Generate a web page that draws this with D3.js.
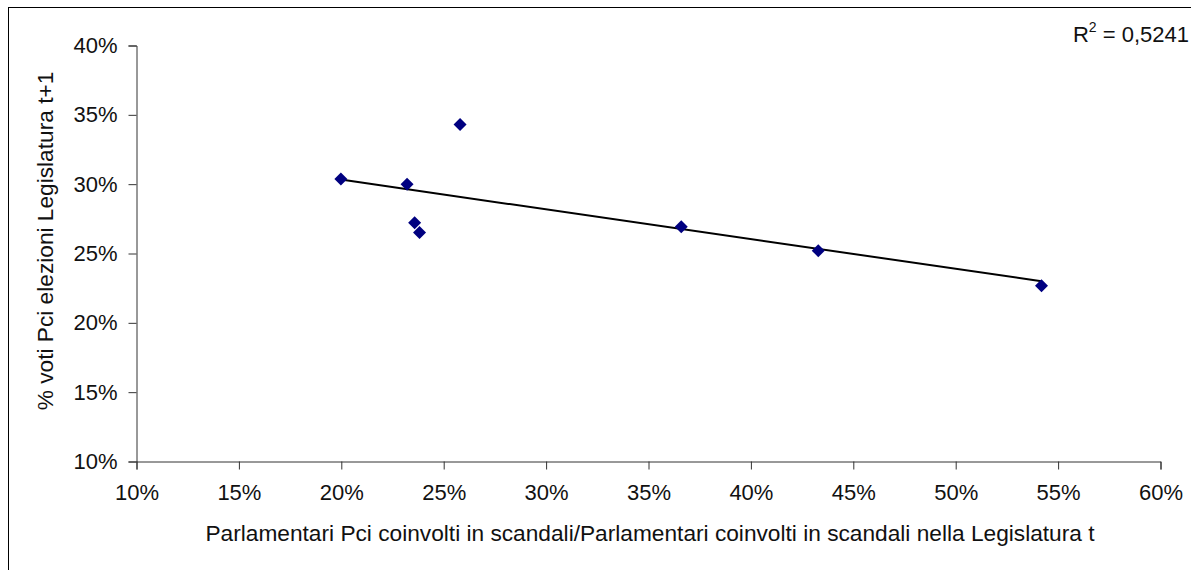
<!DOCTYPE html>
<html lang="it">
  <head>
    <meta charset="UTF-8" />
    <title>Voti Pci vs scandali</title>
    <style>
      html,
      body {
        margin: 0;
        padding: 0;
        background: #fff;
      }
      svg {
        display: block;
        font-family: "Liberation Sans", Arial, sans-serif;
      }
    </style>
    <script src="https://cdn.jsdelivr.net/npm/d3@7/dist/d3.min.js"></script>
  </head>
  <body>
    <script>
      // share of Pci deputies among those involved in scandals, legislature t
      const scandalShare = [0.1998, 0.2321, 0.2358, 0.2382, 0.258, 0.366, 0.4329, 0.5419];
      // Pci vote share at the next election (t+1)
      const voteShare = [0.3037, 0.2999, 0.2722, 0.2652, 0.3431, 0.2693, 0.252, 0.2267];
      const xTicks = [0.1, 0.15, 0.2, 0.25, 0.3, 0.35, 0.4, 0.45, 0.5, 0.55, 0.6];
      const yTicks = [0.1, 0.15, 0.2, 0.25, 0.3, 0.35, 0.4];
      const rSquaredText = "0,5241";

      const width = 1191;
      const height = 570;
      const fontSize = "22px";
      const titleSize = "22.7px";

      const svg = d3
        .select(document.body)
        .append("svg")
        .attr("width", width)
        .attr("height", height);

      // chart frame (right / bottom edges fall outside the picture)
      svg
        .append("rect")
        .attr("x", 8.5)
        .attr("y", 7.5)
        .attr("width", 1200)
        .attr("height", 600)
        .attr("fill", "none")
        .attr("stroke", "#000")
        .attr("stroke-width", 1);

      const x = d3.scaleLinear().domain([0.1, 0.6]).range([136.5, 1160.5]);
      const y = d3.scaleLinear().domain([0.1, 0.4]).range([461.5, 45.5]);
      const pct = d3.format(".0%");

      const xAxis = svg
        .append("g")
        .attr("transform", `translate(0,${y(0.1)})`)
        .call(
          d3.axisBottom(x).tickValues(xTicks).tickFormat(pct).tickSizeOuter(0).tickSize(8).tickPadding(15)
        );

      const yAxis = svg
        .append("g")
        .attr("transform", `translate(${x(0.1)},0)`)
        .call(
          d3.axisLeft(y).tickValues(yTicks).tickFormat(pct).tickSizeOuter(0).tickSize(8).tickPadding(11)
        );

      [xAxis, yAxis].forEach((g) => {
        g.attr("font-family", null).attr("font-size", null);
        g.selectAll("path, line").attr("stroke", "#333");
        g.selectAll("text").attr("fill", "#111").style("font-size", fontSize);
      });

      // axis titles
      svg
        .append("text")
        .attr("x", 650)
        .attr("y", 541)
        .attr("text-anchor", "middle")
        .attr("fill", "#111")
        .style("font-size", titleSize)
        .text(
          "Parlamentari Pci coinvolti in scandali/Parlamentari coinvolti in scandali nella Legislatura t"
        );

      svg
        .append("text")
        .attr("transform", "translate(53,241) rotate(-90)")
        .attr("text-anchor", "middle")
        .attr("fill", "#111")
        .style("font-size", titleSize)
        .text("% voti Pci elezioni Legislatura t+1");

      // linear trend line over the data range
      const points = scandalShare.map((v, i) => [v, voteShare[i]]);
      const mx = d3.mean(scandalShare);
      const my = d3.mean(voteShare);
      const slope =
        d3.sum(points, (p) => (p[0] - mx) * (p[1] - my)) /
        d3.sum(points, (p) => (p[0] - mx) ** 2);
      const intercept = my - slope * mx;
      const [x0, x1] = d3.extent(scandalShare);

      svg
        .append("line")
        .attr("x1", x(x0))
        .attr("y1", y(intercept + slope * x0))
        .attr("x2", x(x1))
        .attr("y2", y(intercept + slope * x1))
        .attr("stroke", "#000")
        .attr("stroke-width", 2);

      svg
        .append("g")
        .selectAll("path")
        .data(points)
        .join("path")
        .attr("transform", (d) => `translate(${x(d[0])},${y(d[1])})`)
        .attr("d", "M0,-6.5L6.5,0L0,6.5L-6.5,0Z")
        .attr("fill", "#000080");

      // R squared label, right-aligned so it stays inside the picture
      const r2 = svg
        .append("text")
        .attr("x", 1189)
        .attr("y", 42)
        .attr("text-anchor", "end")
        .attr("fill", "#111")
        .style("font-size", fontSize);
      r2.append("tspan").text("R");
      r2.append("tspan").attr("dy", -10).style("font-size", "14px").text("2");
      r2.append("tspan").attr("dy", 10).text(` = ${rSquaredText}`);
    </script>
  </body>
</html>
